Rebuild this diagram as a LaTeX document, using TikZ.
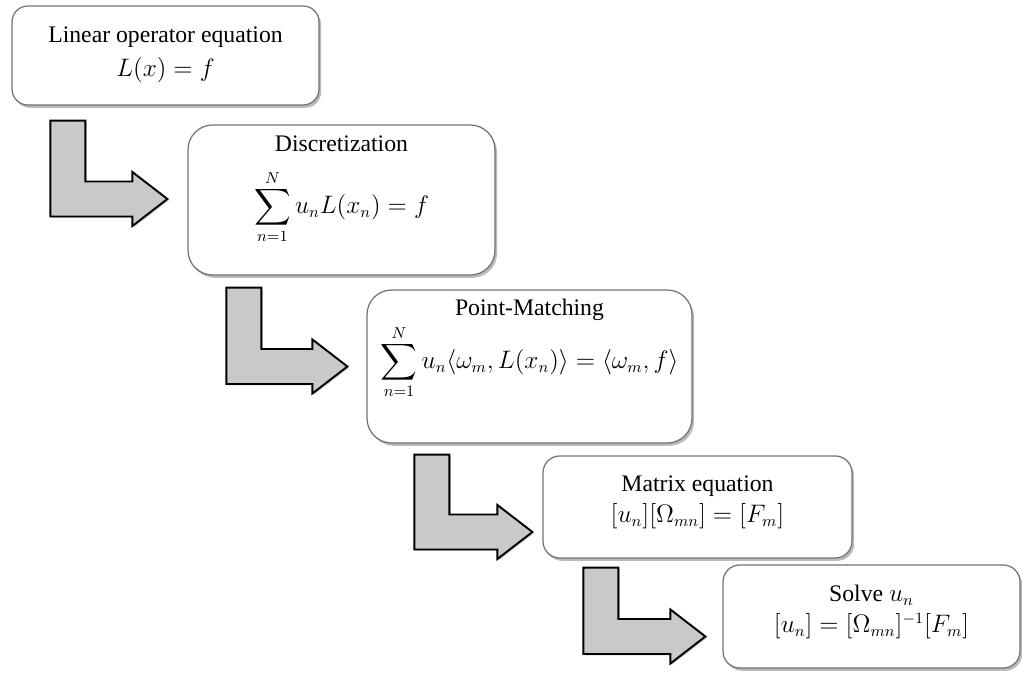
\documentclass[tikz,border=0pt]{standalone}
\usepackage{graphicx}
\usepackage{fontspec}
\setmainfont{Liberation Serif}
\usetikzlibrary{shadows,calc}
\newcommand\BigSum{\mathop{\vcenter{\hbox{\scalebox{1.45}{$\displaystyle\sum$}}}}\limits}
\newcommand\Larrowshape[2]{%
  \draw[larrow] let \p1=(#1), \p2=(#2) in
    (\x1,\y1) -- (\x1+0.7cm,\y1) -- (\x1+0.7cm,\y2+0.35cm)
    -- (\x2-0.7cm,\y2+0.35cm) -- (\x2-0.7cm,\y2+0.54cm) -- (\x2,\y2)
    -- (\x2-0.7cm,\y2-0.54cm) -- (\x2-0.7cm,\y2-0.35cm)
    -- (\x1,\y2-0.35cm) -- cycle;}
\begin{document}
\begin{tikzpicture}[x=0.02cm,y=-0.02cm,
  box/.style={draw=black!55, line width=0.7pt, fill=white, inner sep=0pt,
    rounded corners=#1,
    drop shadow={shadow xshift=1.2pt, shadow yshift=-1.6pt, fill=black!45, opacity=0.6}},
  larrow/.style={draw=black, line width=1.1pt, fill=black!21, line join=miter,
    drop shadow={shadow xshift=0.8pt, shadow yshift=-0.8pt, fill=black!40, opacity=0.5}},
  ttl/.style={anchor=base, inner sep=0pt, font=\fontsize{13.5}{16}\selectfont},
  eqn/.style={anchor=base, inner sep=0pt, font=\fontsize{13.5}{16}\selectfont}]
\useasboundingbox (0,0) rectangle (1022,675);

% boxes
\node[box=9pt,  minimum width=6.14cm, minimum height=1.98cm] (b1) at (165.5,55.5) {};
\node[box=14pt, minimum width=6.14cm, minimum height=3.0cm]  (b2) at (341.5,200) {};
\node[box=14pt, minimum width=6.5cm,  minimum height=3.06cm] (b3) at (529.5,366.5) {};
\node[box=9.5pt,minimum width=6.18cm, minimum height=2.04cm] (b4) at (697.5,507) {};
\node[box=9.5pt,minimum width=5.94cm, minimum height=2.06cm] (b5) at (871.5,616.5) {};

% texts
\node[ttl] (h1) at (165.5,43) {Linear operator equation};
\node[eqn] (e1) at (165.5,77) {$L(x)=f$};
\node[ttl] (h2) at (341.5,152) {Discretization};
\node[eqn] (e2) at (341.5,214) {$\displaystyle\BigSum_{n=1}^{N} u_n L(x_n)=f$};
\node[ttl] (h3) at (529.5,316) {Point-Matching};
\node[eqn] (e3) at (529.5,369) {$\displaystyle\BigSum_{n=1}^{N} u_n\langle\omega_m,L(x_n)\rangle=\langle\omega_m,f\rangle$};
\node[ttl] (h4) at (697.5,492) {Matrix equation};
\node[eqn] (e4) at (697.5,523) {$[u_n][\Omega_{mn}]=[F_m]$};
\node[ttl] (h5) at (871.5,602) {Solve $u_n$};
\node[eqn] (e5) at (871.5,633) {$[u_n]=[\Omega_{mn}]^{-1}[F_m]$};

% arrow anchors
\coordinate (a1s) at ($(b1.south west)+(39,15)$);
\coordinate (a1t) at ($(b2.west)+(-20,-1)$);
\coordinate (a2s) at ($(b2.south west)+(39,12)$);
\coordinate (a2t) at ($(b3.west)+(-19,0)$);
\coordinate (a3s) at ($(b3.south west)+(48,11)$);
\coordinate (a3t) at ($(b4.west)+(-10,25)$);
\coordinate (a4s) at ($(b4.south west)+(41,9)$);
\coordinate (a4t) at ($(b5.west)+(-17,20)$);

\Larrowshape{a1s}{a1t}
\Larrowshape{a2s}{a2t}
\Larrowshape{a3s}{a3t}
\Larrowshape{a4s}{a4t}
\end{tikzpicture}
\end{document}
